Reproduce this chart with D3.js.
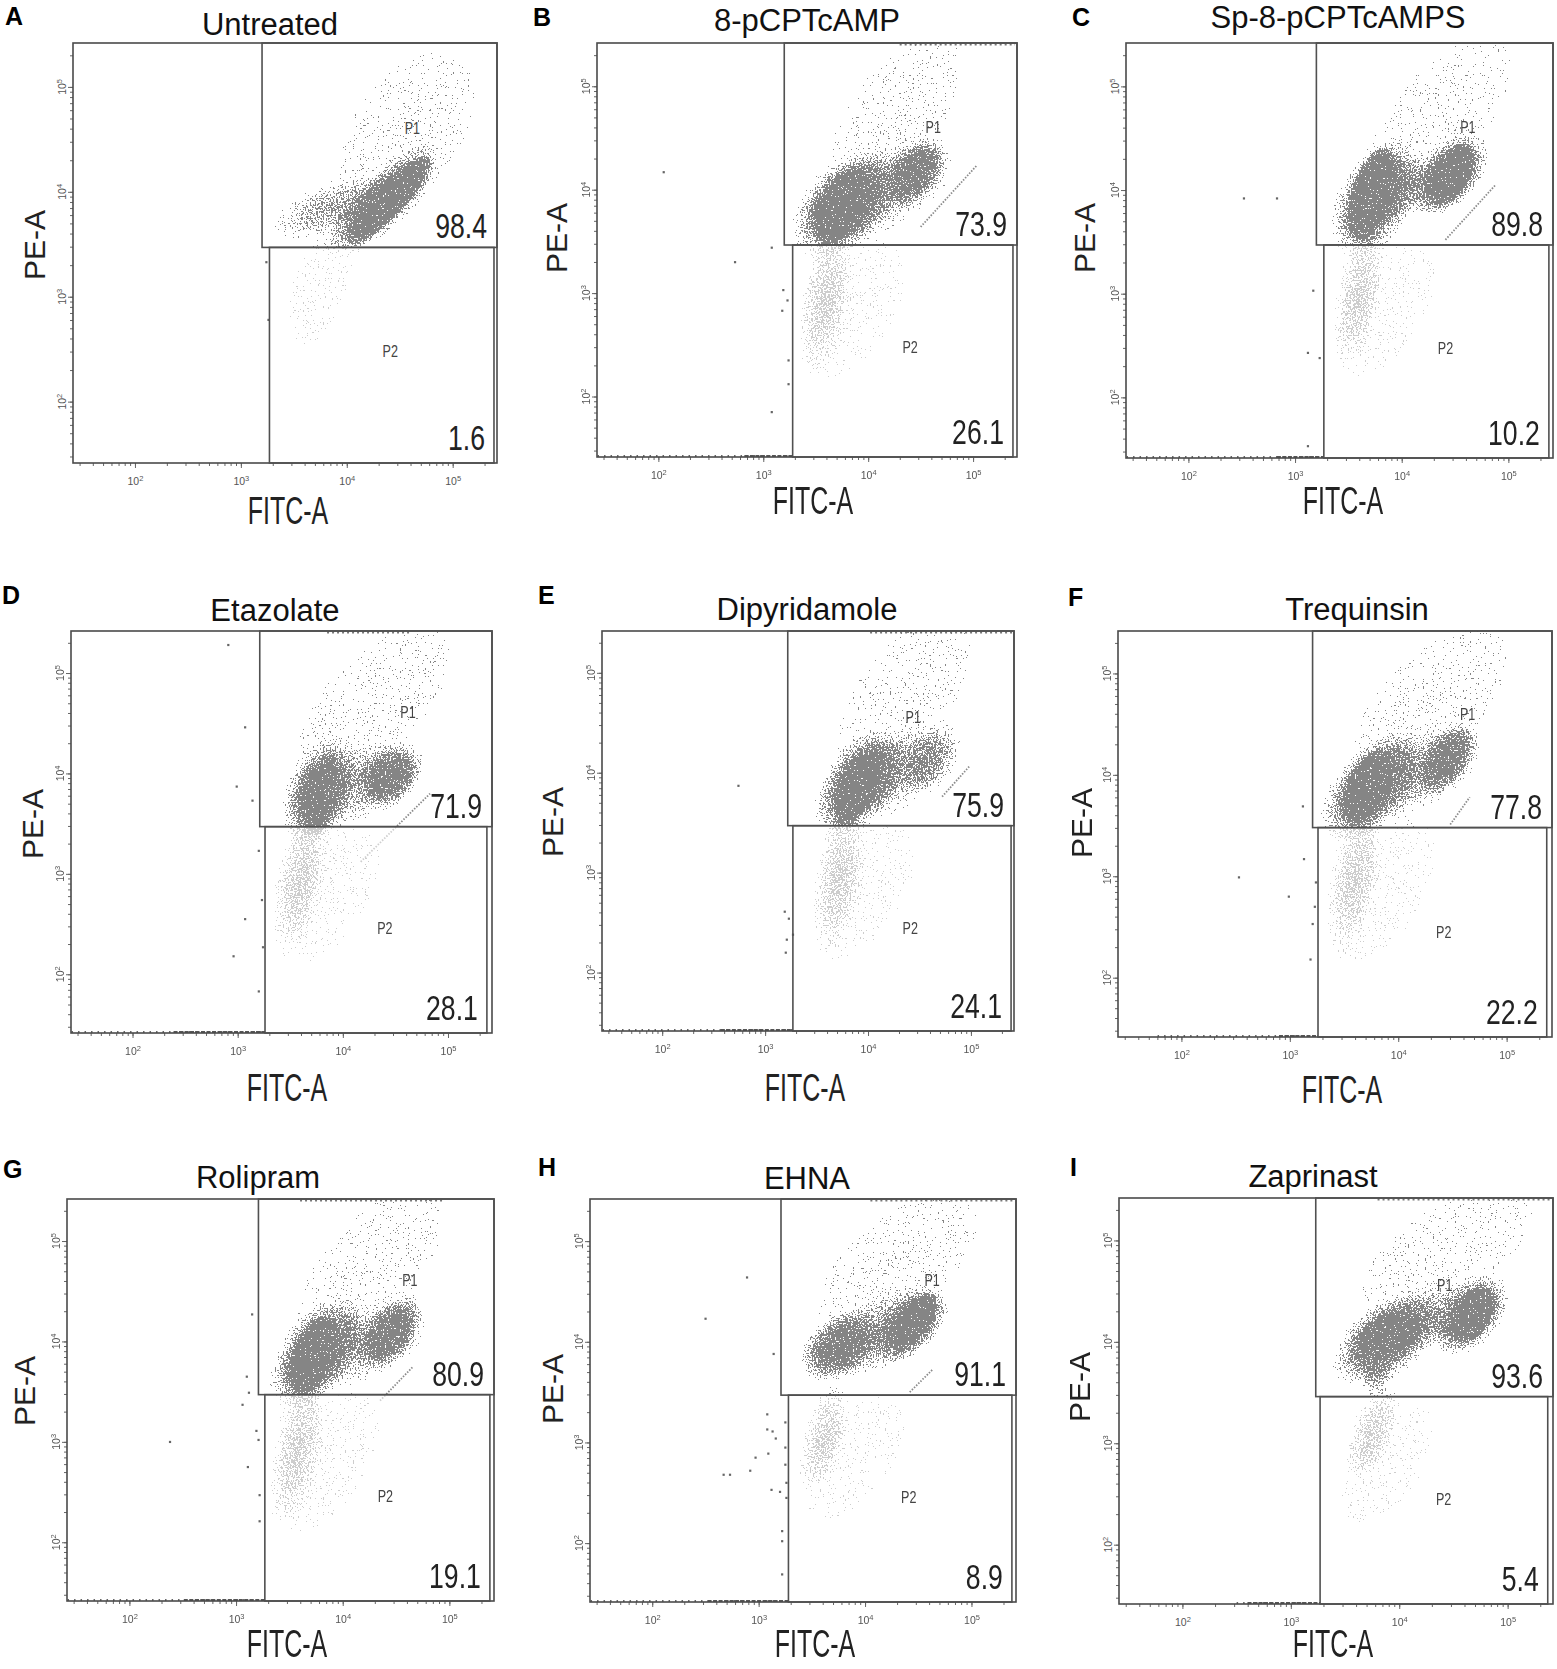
<!DOCTYPE html>
<html>
<head>
<meta charset="utf-8">
<script src="https://cdn.jsdelivr.net/npm/d3@7"></script>
<style>
  body { margin: 0; background: #fff; }
  svg { display: block; font-family: "Liberation Sans", Arial, Helvetica, sans-serif; }
</style>
</head>
<body>
<svg id="chart" width="1557" height="1669"></svg>
<script>
// ---- data ----
let panelLetters = ["A", "B", "C", "D", "E", "F", "G", "H", "I"];
let treatments = ["Untreated", "8-pCPTcAMP", "Sp-8-pCPTcAMPS", "Etazolate", "Dipyridamole",
                  "Trequinsin", "Rolipram", "EHNA", "Zaprinast"];
let p1Percent = [98.4, 73.9, 89.8, 71.9, 75.9, 77.8, 80.9, 91.1, 93.6];
let p2Percent = [1.6, 26.1, 10.2, 28.1, 24.1, 22.2, 19.1, 8.9, 5.4];

// gate edges, log10 units
let p1Left   = [3.20, 3.20, 3.20, 3.21, 3.22, 3.21, 3.21, 3.21, 3.23];
let p2Left   = [3.27, 3.28, 3.27, 3.26, 3.27, 3.26, 3.27, 3.28, 3.27];
let p2Right  = [5.39, 5.38, 5.38, 5.37, 5.39, 5.37, 5.38, 5.38, 5.37];
let gateLine = [3.47, 3.465, 3.47, 3.47, 3.47, 3.48, 3.47, 3.47, 3.46];
let p1LabelAt = [[4.62, 4.61], [4.62, 4.61], [4.62, 4.61], [4.62, 4.61], [4.44, 4.56],
                 [4.64, 4.60], [4.63, 4.61], [4.63, 4.61], [4.42, 4.56]];
let p2LabelAt = [[4.41, 2.48], [4.40, 2.48], [4.41, 2.48], [4.40, 2.46], [4.41, 2.45],
                 [4.42, 2.45], [4.40, 2.46], [4.41, 2.46], [4.41, 2.45]];

// event clouds: panel, log10 FITC, log10 PE, half length, half width (decades), tilt (deg), density
let populations = [
  [0, 4.40, 3.92, 0.55, 0.15, 47, "core"],
  [0, 4.35, 3.92, 0.75, 0.26, 44, "dense"],
  [0, 3.85, 3.85, 0.60, 0.24, 20, "medium"],
  [0, 4.55, 4.55, 1.20, 0.70, 55, "sparse"],
  [0, 3.75, 3.10, 0.80, 0.35, 70, "sparse"],

  [1, 3.74, 3.84, 0.40, 0.22, 62, "core"],
  [1, 3.78, 3.85, 0.62, 0.40, 45, "dense"],
  [1, 4.45, 4.17, 0.40, 0.26, 50, "dense"],
  [1, 4.10, 4.00, 0.80, 0.40, 25, "medium"],
  [1, 4.25, 4.70, 1.25, 0.60, 55, "sparse"],
  [1, 3.60, 2.95, 0.75, 0.25, 82, "medium"],
  [1, 3.85, 2.85, 1.00, 0.55, 60, "sparse"],

  [2, 3.72, 3.96, 0.45, 0.20, 72, "core"],
  [2, 3.75, 3.92, 0.62, 0.36, 62, "dense"],
  [2, 4.47, 4.15, 0.32, 0.17, 62, "core"],
  [2, 4.45, 4.15, 0.48, 0.29, 50, "dense"],
  [2, 4.10, 4.05, 0.70, 0.30, 15, "medium"],
  [2, 4.35, 4.70, 1.25, 0.60, 50, "sparse"],
  [2, 3.60, 3.00, 0.70, 0.22, 80, "medium"],
  [2, 3.85, 2.85, 0.95, 0.50, 60, "sparse"],

  [3, 3.76, 3.73, 0.32, 0.15, 85, "core"],
  [3, 3.78, 3.82, 0.55, 0.33, 70, "dense"],
  [3, 4.45, 3.97, 0.36, 0.28, 45, "dense"],
  [3, 4.10, 3.90, 0.75, 0.38, 20, "medium"],
  [3, 4.30, 4.70, 1.25, 0.65, 45, "sparse"],
  [3, 3.60, 2.95, 0.75, 0.25, 80, "medium"],
  [3, 3.85, 2.80, 1.00, 0.55, 60, "sparse"],

  [4, 3.90, 3.86, 0.40, 0.18, 65, "core"],
  [4, 3.92, 3.90, 0.62, 0.36, 55, "dense"],
  [4, 4.60, 4.14, 0.40, 0.27, 55, "medium"],
  [4, 4.25, 4.00, 0.70, 0.38, 30, "medium"],
  [4, 4.35, 4.75, 1.25, 0.65, 55, "sparse"],
  [4, 3.72, 2.95, 0.75, 0.25, 82, "medium"],
  [4, 3.95, 2.80, 1.00, 0.55, 60, "sparse"],

  [5, 3.72, 3.88, 0.38, 0.20, 65, "core"],
  [5, 3.75, 3.88, 0.62, 0.36, 50, "dense"],
  [5, 4.45, 4.16, 0.40, 0.25, 55, "dense"],
  [5, 4.10, 4.00, 0.75, 0.38, 25, "medium"],
  [5, 4.30, 4.70, 1.25, 0.65, 45, "sparse"],
  [5, 3.60, 3.00, 0.75, 0.25, 80, "medium"],
  [5, 3.85, 2.85, 1.00, 0.55, 60, "sparse"],

  [6, 3.72, 3.86, 0.38, 0.20, 70, "core"],
  [6, 3.75, 3.88, 0.62, 0.36, 55, "dense"],
  [6, 4.45, 4.09, 0.42, 0.26, 55, "dense"],
  [6, 4.10, 3.95, 0.75, 0.38, 20, "medium"],
  [6, 4.25, 4.70, 1.25, 0.65, 50, "sparse"],
  [6, 3.58, 2.95, 0.80, 0.25, 80, "medium"],
  [6, 3.85, 2.80, 1.00, 0.55, 60, "sparse"],

  [7, 3.77, 3.96, 0.42, 0.30, 35, "dense"],
  [7, 4.45, 4.20, 0.32, 0.15, 50, "core"],
  [7, 4.42, 4.17, 0.45, 0.28, 45, "dense"],
  [7, 4.10, 4.08, 0.80, 0.38, 25, "medium"],
  [7, 4.30, 4.75, 1.25, 0.65, 40, "sparse"],
  [7, 3.62, 3.05, 0.55, 0.22, 75, "medium"],
  [7, 3.90, 2.85, 0.90, 0.50, 55, "sparse"],

  [8, 3.92, 4.08, 0.32, 0.20, 20, "core"],
  [8, 3.88, 4.02, 0.58, 0.36, 35, "dense"],
  [8, 3.80, 3.70, 0.25, 0.16, 80, "medium"],
  [8, 4.68, 4.27, 0.28, 0.18, 60, "core"],
  [8, 4.66, 4.27, 0.45, 0.30, 50, "dense"],
  [8, 4.30, 4.25, 0.65, 0.32, 10, "medium"],
  [8, 4.45, 4.90, 1.20, 0.60, 30, "sparse"],
  [8, 3.75, 3.10, 0.50, 0.22, 70, "medium"],
  [8, 3.90, 2.80, 0.85, 0.45, 55, "sparse"]
];

// single events outside the gates: panel, log10 FITC, log10 PE
let strays = [
  [0, 3.24, 3.33], [0, 3.26, 2.78],
  [1, 2.05, 4.17], [1, 2.73, 3.30], [1, 3.08, 3.44], [1, 3.19, 3.03], [1, 3.18, 2.83],
  [1, 3.23, 2.93], [1, 3.24, 2.35], [1, 3.24, 2.12], [1, 3.08, 1.85],
  [2, 2.52, 3.92], [2, 2.83, 3.92], [2, 3.17, 3.03], [2, 3.12, 2.43], [2, 3.23, 2.38], [2, 3.12, 1.53],
  [3, 2.91, 5.28], [3, 3.07, 4.46], [3, 2.99, 3.87], [3, 3.14, 3.73], [3, 3.20, 3.23],
  [3, 3.23, 2.74], [3, 3.07, 2.55], [3, 3.24, 2.27], [3, 2.96, 2.18], [3, 3.20, 1.83],
  [4, 2.74, 3.87], [4, 3.19, 2.61], [4, 3.23, 2.54], [4, 3.27, 2.38], [4, 3.21, 2.33], [4, 3.20, 2.20],
  [5, 3.12, 3.69], [5, 3.13, 3.17], [5, 2.53, 2.99], [5, 2.99, 2.80], [5, 3.24, 2.94],
  [5, 3.23, 2.70], [5, 3.21, 2.53], [5, 3.19, 2.18],
  [6, 3.15, 4.27], [6, 3.10, 3.65], [6, 3.12, 3.49], [6, 3.06, 3.37], [6, 3.19, 3.11],
  [6, 3.21, 3.02], [6, 2.38, 3.00], [6, 3.11, 2.75], [6, 3.22, 2.47], [6, 3.22, 2.21],
  [7, 2.89, 4.64], [7, 2.50, 4.23], [7, 3.14, 3.88], [7, 3.08, 3.28], [7, 3.08, 3.13],
  [7, 3.13, 3.11], [7, 3.16, 3.04], [7, 3.09, 2.89], [7, 2.97, 2.85], [7, 2.92, 2.72],
  [7, 2.67, 2.68], [7, 2.73, 2.68], [7, 3.12, 2.53], [7, 3.20, 2.51], [7, 3.22, 2.12],
  [7, 3.22, 2.02], [7, 3.22, 1.69], [7, 3.25, 3.20], [7, 3.25, 2.95], [7, 3.25, 2.78],
  [7, 3.26, 2.60], [7, 3.26, 2.45]
];

// compensation streaks: panel, from (FITC, PE), to (FITC, PE), log10
let streaks = [
  [1, 4.50, 3.64, 5.04, 4.24],
  [2, 4.41, 3.52, 4.88, 4.05],
  [3, 4.17, 3.12, 4.83, 3.80],
  [4, 4.72, 3.76, 4.99, 4.07],
  [5, 4.48, 3.51, 4.66, 3.78],
  [6, 4.35, 3.41, 4.66, 3.75],
  [7, 4.42, 3.50, 4.64, 3.73]
];

// events piled on the PE floor: panel, FITC from, FITC to (scattered), packed from
let floorEvents = [
  [1, 1.42, 3.28, 2.82], [2, 1.42, 3.27, 2.83], [3, 1.42, 3.26, 2.39],
  [4, 1.42, 3.27, 2.57], [5, 1.78, 3.26, 2.90], [6, 1.42, 3.27, 2.51],
  [7, 1.42, 3.28, 2.52], [8, 2.50, 3.27, 2.60]
];
// events piled on the PE ceiling: panel, FITC from, FITC to
let ceilingEvents = [
  [1, 4.30, 5.40], [3, 3.85, 4.65], [4, 4.02, 5.40], [6, 3.60, 4.94], [7, 4.05, 5.39], [8, 3.80, 5.40]
];

let axisMin = 1.415;
let axisMax = Math.log10(262144);
let majorTicks = [100, 1000, 10000, 100000];

// ---- layout (pixels) ----
let boxes = [[73, 43, 424, 420], [597, 43, 420, 414], [1126, 43, 427, 415],
             [71, 631, 421, 402], [602, 631, 412, 400], [1118, 631, 434, 406],
             [67, 1199, 427, 402], [590, 1199, 426, 403], [1119, 1198, 434, 406]];
let titleAt = [[270, 35], [807, 31], [1338, 28], [275, 621], [807, 620], [1357, 620],
               [258, 1188], [807, 1189], [1313, 1187]];
let letterAt = [[5, 25], [533, 26], [1072, 26], [2, 604], [538, 604], [1068, 606],
                [3, 1178], [538, 1176], [1070, 1176]];
let xLabelAt = [[288, 524], [813, 514], [1343, 514], [287, 1101], [805, 1101], [1342, 1103],
                [287, 1657], [815, 1657], [1333, 1657]];
let yLabelAt = [[45, 245], [567, 238], [1095, 238], [43, 824], [563, 822], [1092, 823],
                [35, 1391], [563, 1389], [1090, 1387]];

let svg = d3.select("#chart");
let defs = svg.append("defs");

// radial falloff for each density class
let densityStops = {
  core:   [[0, 1], [0.75, 1], [1, 0.5]],
  dense:  [[0, 1], [0.5, 0.85], [1, 0]],
  medium: [[0, 0.6], [0.5, 0.42], [1, 0]],
  sparse: [[0, 0.12], [0.5, 0.09], [1, 0]]
};
Object.keys(densityStops).forEach(k => {
  let g = defs.append("radialGradient").attr("id", "dens-" + k);
  densityStops[k].forEach(s => {
    g.append("stop").attr("offset", s[0]).attr("stop-color", "#000").attr("stop-opacity", s[1]);
  });
});

// turn the density into single dots
[["dark", "#858585"], ["light", "#cdcdcd"]].forEach(([name, ink]) => {
  let f = defs.append("filter").attr("id", "stip-" + name)
    .attr("x", "-10%").attr("y", "-10%").attr("width", "120%").attr("height", "120%")
    .attr("color-interpolation-filters", "sRGB");
  f.append("feTurbulence").attr("type", "fractalNoise").attr("baseFrequency", 0.6)
    .attr("numOctaves", 2).attr("seed", 4).attr("result", "noise");
  f.append("feColorMatrix").attr("in", "noise").attr("type", "matrix")
    .attr("values", "0 0 0 0 0  0 0 0 0 0  0 0 0 0 0  2.2 0 0 0 -0.6").attr("result", "na");
  f.append("feComposite").attr("in", "SourceAlpha").attr("in2", "na").attr("operator", "arithmetic")
    .attr("k1", 0).attr("k2", 1).attr("k3", 1).attr("k4", -1).attr("result", "sum");
  f.append("feComponentTransfer").attr("in", "sum").attr("result", "mask")
    .append("feFuncA").attr("type", "discrete")
    .attr("tableValues", "0 " + d3.range(19).map(() => "1").join(" "));
  f.append("feFlood").attr("flood-color", ink).attr("result", "ink");
  f.append("feComposite").attr("in", "ink").attr("in2", "mask").attr("operator", "in");
});

let minorTicks = [];
for (let e = 1; e <= 5; e++) {
  for (let k = 1; k <= 9; k++) {
    let v = k * Math.pow(10, e);
    if (v >= Math.pow(10, axisMin) && v <= Math.pow(10, axisMax)) minorTicks.push(v);
  }
}

let pw = v => Math.pow(10, v);

panelLetters.forEach((letter, i) => {
  let [L, T, W, H] = boxes[i];
  let x = d3.scaleLog().domain([pw(axisMin), pw(axisMax)]).range([L, L + W]);
  let y = d3.scaleLog().domain([pw(axisMin), pw(axisMax)]).range([T + H, T]);
  let p = svg.append("g").attr("class", "panel");

  let gy = y(pw(gateLine[i]));
  let g1x = x(pw(p1Left[i]));
  let g2x = x(pw(p2Left[i]));
  let g2r = x(pw(p2Right[i]));

  defs.append("clipPath").attr("id", "p1clip" + i).append("rect")
    .attr("x", g1x).attr("y", T).attr("width", L + W - g1x).attr("height", gy - T);
  defs.append("clipPath").attr("id", "p2clip" + i).append("rect")
    .attr("x", g2x).attr("y", gy).attr("width", g2r - g2x).attr("height", T + H - gy);

  let pops = populations.filter(d => d[0] === i);
  let streakRows = streaks.filter(d => d[0] === i);

  [["p1", "dark", "#8a8a8a"], ["p2", "light", "#cfcfcf"]].forEach(([gate, ink, col]) => {
    let layer = p.append("g").attr("clip-path", "url(#" + gate + "clip" + i + ")");
    layer.append("g").attr("filter", "url(#stip-" + ink + ")")
      .selectAll("ellipse").data(pops).join("ellipse")
      .attr("cx", 0).attr("cy", 0)
      .attr("rx", d => x(pw(d[1] + d[3])) - x(pw(d[1])))
      .attr("ry", d => y(pw(d[2])) - y(pw(d[2] + d[4])))
      .attr("transform", d => "translate(" + x(pw(d[1])) + "," + y(pw(d[2])) + ") rotate(" + (-d[5]) + ")")
      .attr("fill", d => "url(#dens-" + d[6] + ")");
    layer.selectAll("line.streak").data(streakRows).join("line")
      .attr("class", "streak")
      .attr("x1", d => x(pw(d[1]))).attr("y1", d => y(pw(d[2])))
      .attr("x2", d => x(pw(d[3]))).attr("y2", d => y(pw(d[4])))
      .attr("stroke", col).attr("stroke-width", 1.8).attr("stroke-dasharray", "1.5 1.5");
  });

  // floor and ceiling piles
  floorEvents.filter(d => d[0] === i).forEach(d => {
    p.append("line").attr("x1", x(pw(d[1]))).attr("x2", x(pw(d[2])))
      .attr("y1", T + H - 1).attr("y2", T + H - 1)
      .attr("stroke", "#666").attr("stroke-width", 2).attr("stroke-dasharray", "1.5 5");
    p.append("line").attr("x1", x(pw(d[3]))).attr("x2", x(pw(d[2])))
      .attr("y1", T + H - 1).attr("y2", T + H - 1)
      .attr("stroke", "#555").attr("stroke-width", 2).attr("stroke-dasharray", "4 1.5");
  });
  ceilingEvents.filter(d => d[0] === i).forEach(d => {
    p.append("line").attr("x1", x(pw(d[1]))).attr("x2", x(pw(d[2])))
      .attr("y1", T + 1.5).attr("y2", T + 1.5)
      .attr("stroke", "#777").attr("stroke-width", 2).attr("stroke-dasharray", "2 3");
  });

  p.selectAll("rect.stray").data(strays.filter(d => d[0] === i)).join("rect")
    .attr("class", "stray")
    .attr("x", d => x(pw(d[1])) - 1).attr("y", d => y(pw(d[2])) - 1)
    .attr("width", 2.2).attr("height", 2.2).attr("fill", "#666");

  // axes
  let xMinor = p.append("g").attr("transform", "translate(0," + (T + H) + ")")
    .call(d3.axisBottom(x).tickValues(minorTicks).tickSize(3).tickFormat(""));
  let xMajor = p.append("g").attr("transform", "translate(0," + (T + H) + ")")
    .call(d3.axisBottom(x).tickValues(majorTicks).tickSize(5).tickPadding(10).tickFormat(""));
  let yMinor = p.append("g").attr("transform", "translate(" + L + ",0)")
    .call(d3.axisLeft(y).tickValues(minorTicks).tickSize(3).tickFormat(""));
  let yMajor = p.append("g").attr("transform", "translate(" + L + ",0)")
    .call(d3.axisLeft(y).tickValues(majorTicks).tickSize(5).tickFormat(""));
  [xMinor, xMajor, yMinor, yMajor].forEach(a => {
    a.select(".domain").remove();
    a.selectAll(".tick line").attr("stroke", "#666").attr("stroke-width", 1);
  });
  yMajor.selectAll(".tick text").remove();
  xMajor.selectAll(".tick text").each(function(d) {
    let t = d3.select(this).attr("fill", "#555").attr("font-size", 10.5)
      .attr("font-family", "\"Liberation Sans\", Arial, sans-serif");
    t.text("10");
    t.append("tspan").attr("dy", "-0.55em").attr("font-size", 7.5).text(Math.round(Math.log10(d)));
  });
  p.selectAll("text.ytick").data(majorTicks).join("text")
    .attr("class", "ytick")
    .attr("transform", d => "translate(" + (L - 7) + "," + y(d) + ") rotate(-90)")
    .attr("text-anchor", "middle").attr("fill", "#555").attr("font-size", 10.5)
    .each(function(d) {
      let t = d3.select(this);
      t.text("10");
      t.append("tspan").attr("dy", "-0.55em").attr("font-size", 7.5).text(Math.round(Math.log10(d)));
    });

  // frame and gates
  p.append("rect").attr("x", L).attr("y", T).attr("width", W).attr("height", H)
    .attr("fill", "none").attr("stroke", "#4a4a4a").attr("stroke-width", 1.6);
  p.append("rect").attr("x", g1x).attr("y", T).attr("width", L + W - g1x).attr("height", gy - T)
    .attr("fill", "none").attr("stroke", "#505050").attr("stroke-width", 1.6);
  p.append("rect").attr("x", g2x).attr("y", gy).attr("width", g2r - g2x).attr("height", T + H - gy)
    .attr("fill", "none").attr("stroke", "#505050").attr("stroke-width", 1.6);

  // gate names and percentages
  let narrow = (sel, px, py) => sel.append("g").attr("transform", "translate(" + px + "," + py + ") scale(0.74,1)");
  narrow(p, x(pw(p1LabelAt[i][0])), y(pw(p1LabelAt[i][1])))
    .append("text").attr("text-anchor", "middle").attr("dy", "0.35em")
    .attr("font-size", 17).attr("fill", "#444").text("P1");
  narrow(p, x(pw(p2LabelAt[i][0])), y(pw(p2LabelAt[i][1])))
    .append("text").attr("text-anchor", "middle").attr("dy", "0.35em")
    .attr("font-size", 17).attr("fill", "#444").text("P2");
  narrow(p, L + W - 10, gy - 9)
    .append("text").attr("text-anchor", "end").attr("font-size", 36).attr("fill", "#222")
    .text(p1Percent[i].toFixed(1));
  narrow(p, g2r - 9, T + H - 13)
    .append("text").attr("text-anchor", "end").attr("font-size", 36).attr("fill", "#222")
    .text(p2Percent[i].toFixed(1));

  // titles and axis names
  p.append("text").attr("x", titleAt[i][0]).attr("y", titleAt[i][1])
    .attr("text-anchor", "middle").attr("font-size", 31).attr("fill", "#111").text(treatments[i]);
  p.append("text").attr("x", letterAt[i][0]).attr("y", letterAt[i][1])
    .attr("font-size", 25).attr("font-weight", "bold").attr("fill", "#000").text(letter);
  p.append("g").attr("transform", "translate(" + xLabelAt[i][0] + "," + xLabelAt[i][1] + ") scale(0.64,1)")
    .append("text").attr("text-anchor", "middle").attr("font-size", 39).attr("fill", "#222").text("FITC-A");
  p.append("text").attr("transform", "translate(" + yLabelAt[i][0] + "," + yLabelAt[i][1] + ") rotate(-90)")
    .attr("text-anchor", "middle").attr("font-size", 30).attr("fill", "#222").text("PE-A");
});
</script>
</body>
</html>
